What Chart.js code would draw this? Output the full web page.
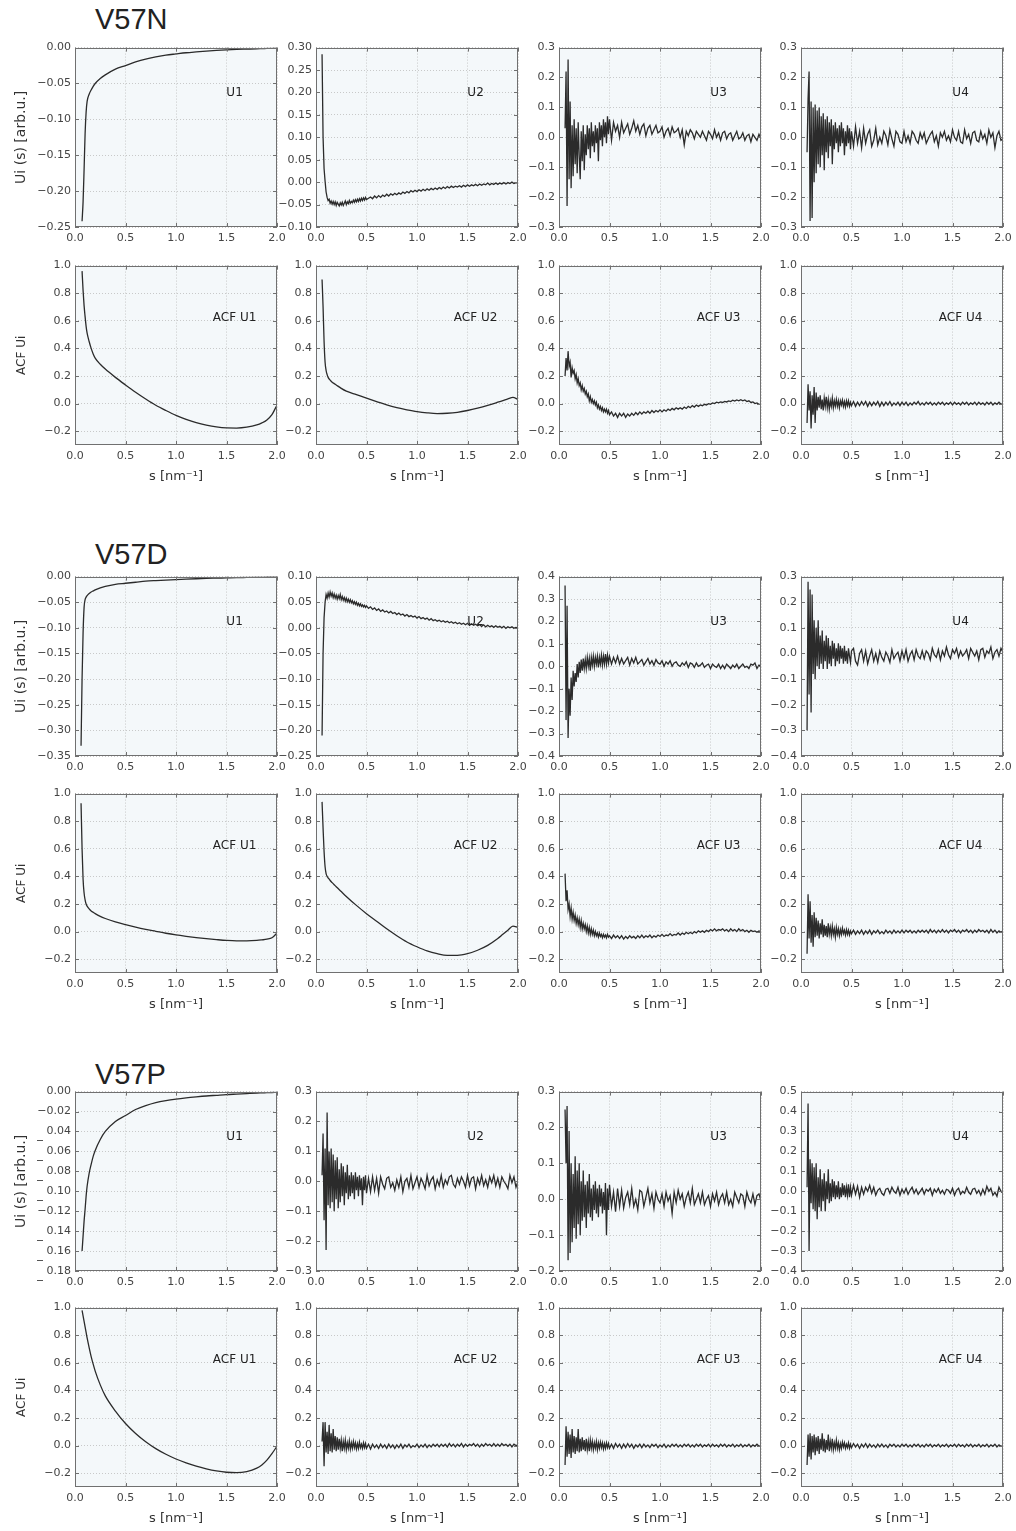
<!DOCTYPE html>
<html>
<head>
<meta charset="utf-8">
<script src="https://cdn.jsdelivr.net/npm/chart.js@4.4.0/dist/chart.umd.min.js"></script>
<style>
body{margin:0;background:#fff;width:1016px;height:1531px;position:relative;overflow:hidden;}
canvas{position:absolute;}
.grp{position:absolute;left:95px;font-family:"Liberation Sans",Arial,sans-serif;font-size:29px;line-height:29px;color:#222;}
</style>
</head>
<body>
<div class="grp" style="top:5px">V57N</div>
<div class="grp" style="top:540px">V57D</div>
<div class="grp" style="top:1060px">V57P</div>
<script>
// s grid for the smooth curves
const sSmooth = [0.06,0.07,0.08,0.09,0.10,0.11,0.12,0.14,0.16,0.18,0.20,0.25,0.30,
  0.40,0.50,0.60,0.70,0.80,0.90,1.00,1.10,1.20,1.30,1.40,1.50,1.60,1.70,1.80,1.85,1.90,1.95,2.00];

// s grid for the noisy curves
const sNoisy = [
  0.06,0.07,0.08,0.09,0.10,0.11,0.12,0.13,0.14,0.15,
  0.16,0.17,0.18,0.19,0.20,0.21,0.22,0.23,0.24,0.25,
  0.26,0.27,0.28,0.29,0.30,0.31,0.32,0.33,0.34,0.35,
  0.36,0.37,0.38,0.39,0.40,0.41,0.42,0.43,0.44,0.45,
  0.46,0.47,0.48,0.49,0.50,0.52,0.54,0.56,0.58,0.60,
  0.62,0.64,0.66,0.68,0.70,0.72,0.74,0.76,0.78,0.80,
  0.82,0.84,0.86,0.88,0.90,0.92,0.94,0.96,0.98,1.00,
  1.02,1.04,1.06,1.08,1.10,1.12,1.14,1.16,1.18,1.20,
  1.22,1.24,1.26,1.28,1.30,1.32,1.34,1.36,1.38,1.40,
  1.42,1.44,1.46,1.48,1.50,1.52,1.54,1.56,1.58,1.60,
  1.62,1.64,1.66,1.68,1.70,1.72,1.74,1.76,1.78,1.80,
  1.82,1.84,1.86,1.88,1.90,1.92,1.94,1.96,1.98,2.00];

// ---- V57N ----
const u1N = [null,-0.242,-0.215,-0.17,-0.12,-0.09,-0.075,-0.065,-0.059,-0.054,-0.050,-0.043,-0.038,
  -0.030,-0.025,-0.020,-0.016,-0.013,-0.0105,-0.0088,-0.0072,-0.006,-0.0049,-0.004,-0.0032,-0.0026,-0.0021,-0.0016,
  -0.0014,-0.0012,-0.001,-0.0008];
const u2N = [
  0.285,0.10,0.03,0.002,-0.022,-0.034,-0.041,-0.038,-0.047,-0.042,
  -0.049,-0.043,-0.050,-0.044,-0.052,-0.045,-0.049,-0.053,-0.046,-0.051,
  -0.045,-0.052,-0.047,-0.042,-0.050,-0.044,-0.048,-0.041,-0.047,-0.043,
  -0.046,-0.040,-0.045,-0.039,-0.044,-0.038,-0.043,-0.037,-0.042,-0.036,
  -0.041,-0.035,-0.040,-0.034,-0.039,-0.036,-0.033,-0.037,-0.031,-0.035,
  -0.030,-0.034,-0.029,-0.032,-0.027,-0.031,-0.026,-0.029,-0.025,-0.028,
  -0.024,-0.027,-0.022,-0.025,-0.021,-0.024,-0.019,-0.022,-0.018,-0.021,
  -0.017,-0.020,-0.016,-0.019,-0.015,-0.018,-0.014,-0.017,-0.013,-0.016,
  -0.012,-0.015,-0.011,-0.014,-0.010,-0.013,-0.009,-0.012,-0.009,-0.011,
  -0.008,-0.011,-0.007,-0.010,-0.006,-0.009,-0.006,-0.008,-0.005,-0.008,
  -0.004,-0.007,-0.004,-0.006,-0.002,-0.006,-0.003,-0.005,-0.002,-0.005,
  -0.002,-0.004,-0.001,-0.004,-0.001,-0.003,0.000,-0.003,-0.001,-0.002];
const u3N = [
  0.03,0.22,-0.23,0.26,-0.14,0.12,-0.17,0.04,-0.13,0.06,
  -0.09,0.03,-0.12,0.05,-0.06,-0.14,0.02,-0.08,0.04,-0.11,
  0.01,-0.06,0.04,-0.04,0.03,-0.07,0.05,-0.03,0.02,-0.05,
  0.04,-0.02,0.03,-0.08,0.05,-0.01,0.04,-0.03,0.06,0.00,
  0.05,-0.02,0.07,0.01,0.06,-0.01,0.05,0.02,0.04,0.00,
  0.05,0.015,0.03,0.045,0.01,0.03,0.055,0.02,0.04,0.01,
  0.035,0.045,0.005,0.03,0.04,0.01,0.025,0.04,0.015,0.02,
  0.035,0.0,0.02,0.03,0.005,0.035,0.015,0.02,0.03,0.0,
  0.025,-0.025,0.02,0.005,0.025,0.015,-0.005,0.02,0.01,0.0,
  0.02,0.005,-0.01,0.02,0.01,-0.005,0.025,0.0,0.015,-0.01,
  0.015,0.02,-0.005,0.01,0.015,-0.01,0.005,0.02,-0.005,0.0,
  0.015,-0.01,0.005,0.01,-0.015,0.01,0.0,-0.01,0.01,-0.005];
const u4N = [
  -0.05,0.13,0.22,-0.28,0.12,-0.27,0.10,-0.15,0.11,-0.12,
  0.09,-0.09,0.10,-0.10,0.07,-0.06,0.08,-0.11,0.06,-0.05,
  0.07,-0.07,0.05,-0.03,0.06,-0.09,0.04,-0.04,0.05,-0.02,
  0.03,-0.05,0.04,-0.03,0.05,-0.02,0.03,-0.06,0.02,-0.03,
  0.04,-0.02,0.03,-0.04,0.02,-0.03,0.035,-0.02,0.02,-0.035,
  0.03,-0.02,0.01,0.025,-0.03,-0.01,0.03,-0.025,0.0,-0.02,
  0.02,0.005,-0.025,0.025,-0.005,-0.03,0.02,0.01,-0.015,-0.02,
  0.02,-0.015,0.005,-0.02,0.02,0.01,-0.01,-0.02,0.015,-0.005,
  0.015,-0.02,-0.005,0.01,0.02,-0.015,0.005,-0.03,0.015,0.0,
  0.02,-0.01,0.005,-0.015,0.025,0.0,-0.01,0.02,-0.015,-0.02,
  0.025,-0.005,0.01,-0.02,0.015,0.02,-0.01,-0.015,0.02,-0.005,
  0.01,-0.02,0.025,0.0,0.015,-0.035,0.005,0.02,-0.01,-0.005];
const acf1N = [null,0.96,0.82,0.71,0.63,0.56,0.51,0.45,0.40,0.36,0.33,0.285,0.25,
  0.19,0.135,0.082,0.033,-0.012,-0.05,-0.085,-0.114,-0.138,-0.156,-0.169,-0.176,-0.177,-0.171,-0.155,
  -0.14,-0.118,-0.08,-0.01];
const acf2N = [0.90,0.70,0.45,0.30,0.24,0.21,0.19,0.17,0.155,0.145,0.135,0.11,0.09,
  0.065,0.04,0.015,-0.01,-0.03,-0.045,-0.058,-0.067,-0.072,-0.07,-0.063,-0.05,-0.033,-0.013,0.01,
  0.022,0.035,0.045,0.03];
const acf3N = [
  0.20,0.33,0.24,0.38,0.27,0.30,0.19,0.26,0.22,0.24,
  0.18,0.21,0.15,0.18,0.13,0.15,0.10,0.13,0.09,0.11,
  0.07,0.09,0.05,0.07,0.02,0.05,0.01,0.03,0.00,0.02,
  -0.01,0.01,-0.03,-0.01,-0.04,-0.02,-0.05,-0.03,-0.06,-0.04,
  -0.06,-0.04,-0.07,-0.05,-0.08,-0.06,-0.09,-0.07,-0.10,-0.07,
  -0.09,-0.07,-0.10,-0.075,-0.09,-0.07,-0.085,-0.065,-0.08,-0.06,
  -0.075,-0.06,-0.07,-0.055,-0.07,-0.05,-0.065,-0.05,-0.06,-0.045,
  -0.06,-0.045,-0.055,-0.04,-0.05,-0.035,-0.045,-0.03,-0.04,-0.03,
  -0.04,-0.025,-0.035,-0.02,-0.03,-0.015,-0.025,-0.01,-0.02,-0.01,
  -0.015,-0.005,-0.01,0.0,-0.005,0.005,0.0,0.01,0.005,0.012,
  0.008,0.016,0.012,0.02,0.015,0.025,0.018,0.026,0.02,0.028,
  0.02,0.026,0.015,0.02,0.008,0.012,0.0,0.005,-0.005,-0.005];
const acf4N = [
  -0.14,0.14,-0.05,0.09,-0.18,0.06,-0.08,0.12,-0.14,0.08,
  -0.05,0.05,-0.03,0.06,-0.04,0.03,-0.05,0.04,-0.02,0.05,
  -0.03,0.03,-0.04,0.02,-0.02,0.04,-0.03,0.02,-0.02,0.03,
  -0.02,0.02,-0.03,0.02,-0.01,0.025,-0.02,0.015,-0.025,0.02,
  -0.015,0.02,-0.02,0.01,-0.015,0.015,-0.02,0.01,-0.015,0.015,
  -0.01,0.015,-0.02,0.01,-0.015,0.01,-0.01,0.015,-0.02,0.01,
  -0.015,0.01,-0.01,0.015,-0.015,0.005,-0.01,0.01,-0.015,0.01,
  -0.01,0.01,-0.015,0.005,-0.01,0.01,-0.005,0.015,-0.01,0.005,
  -0.01,0.01,-0.005,0.01,-0.01,0.005,-0.01,0.01,-0.005,0.01,
  -0.01,0.005,-0.005,0.01,-0.01,0.01,-0.005,0.005,-0.01,0.01,
  -0.005,0.01,-0.01,0.005,-0.005,0.01,-0.01,0.01,-0.005,0.005,
  -0.01,0.01,-0.005,0.01,-0.01,0.005,-0.005,0.01,-0.005,0.0];

// ---- V57D ----
const u1D = [-0.33,-0.20,-0.11,-0.06,-0.045,-0.04,-0.037,-0.033,-0.030,-0.028,-0.026,-0.022,-0.019,
  -0.015,-0.013,-0.011,-0.009,-0.0078,-0.0068,-0.006,-0.005,-0.0042,-0.0035,-0.003,-0.0025,-0.002,-0.0016,-0.0012,
  -0.001,-0.0008,-0.0006,-0.0005];
const u2D = [
  -0.21,-0.05,0.02,0.05,0.065,0.058,0.068,0.060,0.070,0.062,
  0.068,0.059,0.066,0.058,0.064,0.056,0.063,0.057,0.065,0.055,
  0.061,0.054,0.059,0.052,0.058,0.051,0.056,0.050,0.055,0.049,
  0.053,0.047,0.051,0.046,0.050,0.044,0.048,0.043,0.047,0.042,
  0.045,0.041,0.044,0.040,0.043,0.038,0.041,0.036,0.039,0.034,
  0.037,0.032,0.035,0.031,0.033,0.029,0.032,0.028,0.030,0.026,
  0.029,0.025,0.027,0.023,0.026,0.022,0.024,0.021,0.023,0.019,
  0.022,0.018,0.020,0.017,0.019,0.015,0.018,0.014,0.016,0.013,
  0.015,0.012,0.014,0.011,0.013,0.010,0.012,0.009,0.011,0.008,
  0.010,0.007,0.009,0.006,0.009,0.005,0.008,0.005,0.007,0.004,
  0.006,0.003,0.006,0.002,0.005,0.002,0.004,0.001,0.004,0.001,
  0.003,0.000,0.003,-0.001,0.002,0.000,0.002,-0.001,0.001,0.000];
const u3D = [
  0.36,-0.24,0.27,-0.32,-0.10,-0.22,-0.05,-0.15,-0.02,-0.09,
  -0.03,-0.07,0.01,-0.05,0.02,-0.03,0.03,-0.02,0.035,-0.01,
  0.03,-0.01,0.04,0.0,0.035,-0.02,0.04,0.005,0.045,0.0,
  0.04,0.01,0.045,-0.005,0.04,0.01,0.05,0.005,0.045,0.01,
  0.055,0.01,0.05,0.015,0.045,0.01,0.04,0.015,0.045,0.01,
  0.035,0.01,0.025,0.04,0.005,0.035,0.015,0.04,0.01,0.02,
  0.03,0.005,0.02,0.035,0.01,0.025,0.005,0.03,0.015,0.01,
  0.025,0.0,0.02,0.01,0.025,0.0,0.015,0.02,0.005,0.0,
  0.015,0.005,0.02,-0.005,0.015,0.01,-0.005,0.015,0.0,0.005,
  0.015,-0.005,0.005,0.01,-0.01,0.01,0.0,-0.005,0.01,-0.01,
  0.005,-0.01,0.01,0.0,-0.01,0.005,-0.005,0.01,-0.01,0.0,
  0.01,-0.005,0.0,-0.01,0.01,0.005,0.015,-0.01,0.005,0.0];
const u4D = [
  -0.30,0.28,-0.16,0.25,-0.23,0.23,-0.08,0.13,-0.10,0.10,
  -0.05,0.13,-0.06,0.07,-0.04,0.09,-0.06,0.05,-0.03,0.07,
  -0.06,0.06,-0.04,0.03,-0.05,0.05,-0.02,0.04,-0.05,0.02,
  -0.03,0.04,-0.04,0.03,-0.02,0.02,-0.04,0.03,-0.03,0.01,
  -0.04,0.02,-0.01,-0.035,0.01,0.02,-0.03,-0.045,0.0,0.015,
  -0.03,0.01,-0.04,-0.01,0.015,-0.03,0.0,-0.035,0.01,-0.015,
  -0.03,0.005,-0.01,-0.035,0.015,-0.02,-0.005,0.005,-0.03,0.01,
  -0.02,0.015,-0.03,-0.005,0.01,-0.025,0.015,-0.01,-0.02,0.01,
  -0.02,0.01,0.0,-0.025,0.02,-0.005,-0.015,0.015,-0.025,0.01,
  -0.01,0.025,-0.005,-0.02,0.015,0.0,0.02,-0.015,0.01,-0.01,
  0.0,0.015,-0.02,0.02,0.005,-0.01,0.01,-0.025,0.015,0.02,
  -0.015,0.01,0.0,0.025,-0.02,0.005,0.015,-0.01,0.02,0.005];
const acf1D = [0.93,0.60,0.38,0.28,0.23,0.20,0.185,0.165,0.15,0.14,0.13,0.11,0.095,
  0.07,0.05,0.032,0.016,0.002,-0.012,-0.024,-0.034,-0.043,-0.051,-0.058,-0.064,-0.067,-0.067,-0.064,
  -0.06,-0.055,-0.045,-0.01];
const acf2D = [0.94,0.75,0.58,0.47,0.42,0.40,0.39,0.37,0.355,0.34,0.325,0.29,0.255,
  0.19,0.13,0.075,0.02,-0.03,-0.075,-0.11,-0.14,-0.16,-0.172,-0.172,-0.16,-0.135,-0.10,-0.05,
  -0.02,0.01,0.04,0.03];
const acf3D = [
  0.42,0.22,0.30,0.16,0.20,0.11,0.17,0.09,0.14,0.08,
  0.12,0.06,0.10,0.05,0.09,0.03,0.08,0.02,0.06,0.02,
  0.05,0.0,0.04,-0.01,0.03,-0.02,0.02,-0.02,0.01,-0.03,
  0.0,-0.03,-0.01,-0.04,-0.01,-0.035,-0.02,-0.045,-0.02,-0.04,
  -0.025,-0.045,-0.02,-0.04,-0.03,-0.05,-0.025,-0.045,-0.03,-0.05,
  -0.03,-0.055,-0.035,-0.05,-0.03,-0.045,-0.035,-0.05,-0.03,-0.045,
  -0.025,-0.045,-0.03,-0.04,-0.025,-0.045,-0.03,-0.04,-0.025,-0.035,
  -0.02,-0.035,-0.025,-0.03,-0.015,-0.03,-0.02,-0.025,-0.01,-0.025,
  -0.01,-0.02,-0.005,-0.015,-0.005,-0.015,0.0,-0.01,0.005,-0.005,
  0.005,-0.005,0.01,0.0,0.015,0.005,0.02,0.005,0.015,0.01,
  0.02,0.005,0.015,0.0,0.02,0.005,0.015,0.0,0.02,0.005,
  0.015,0.0,0.01,-0.005,0.01,0.0,0.005,-0.005,0.005,0.0];
const acf4D = [
  -0.16,0.27,-0.05,0.22,-0.08,0.12,-0.11,0.14,-0.04,0.10,
  -0.03,0.08,-0.05,0.06,-0.02,0.09,-0.04,0.05,-0.03,0.04,
  -0.04,0.06,-0.02,0.03,-0.03,0.04,-0.02,0.02,-0.04,0.03,
  -0.02,0.02,-0.03,0.015,-0.02,0.025,-0.015,0.01,-0.025,0.015,
  -0.02,0.01,-0.025,0.005,-0.015,0.01,-0.02,0.005,-0.015,0.01,
  -0.02,0.005,-0.015,0.01,-0.02,0.005,-0.01,0.01,-0.015,0.0,
  -0.015,0.01,-0.01,0.005,-0.015,0.01,-0.01,0.005,-0.01,0.01,
  -0.01,0.01,-0.005,0.01,-0.01,0.005,-0.01,0.01,-0.005,0.01,
  -0.005,0.01,-0.01,0.015,-0.005,0.01,-0.01,0.01,-0.005,0.015,
  -0.005,0.01,-0.01,0.01,0.0,0.015,-0.005,0.01,-0.01,0.01,
  0.0,0.015,-0.005,0.01,-0.01,0.01,-0.005,0.015,0.0,0.01,
  -0.005,0.01,-0.01,0.015,-0.005,0.01,-0.01,0.005,-0.005,0.005];

// ---- V57P ----
const u1P = [null,-0.16,-0.145,-0.13,-0.118,-0.105,-0.095,-0.082,-0.073,-0.065,-0.059,-0.048,-0.040,
  -0.030,-0.024,-0.018,-0.014,-0.011,-0.009,-0.0075,-0.0063,-0.0053,-0.0044,-0.0037,-0.003,-0.0025,-0.002,-0.0015,
  -0.0013,-0.0011,-0.0009,-0.0007];
const u2P = [
  0.02,0.16,-0.13,0.11,-0.23,0.23,-0.08,0.10,-0.09,0.11,
  -0.07,0.09,-0.10,0.07,-0.06,0.08,-0.09,0.04,-0.07,0.06,
  -0.05,0.05,-0.08,0.03,-0.04,0.055,-0.06,0.02,-0.05,0.03,
  -0.04,0.02,-0.06,0.03,-0.03,0.015,-0.05,0.02,-0.03,0.01,
  -0.08,0.015,-0.03,0.02,-0.04,0.01,-0.035,0.015,-0.03,0.01,
  -0.04,0.015,-0.01,-0.025,0.01,0.015,-0.02,-0.005,-0.03,0.005,
  -0.02,0.015,-0.035,0.0,0.01,-0.02,0.02,-0.025,-0.005,0.015,
  -0.02,0.01,-0.005,-0.025,0.02,-0.015,0.005,0.015,-0.025,0.005,
  -0.015,0.02,-0.02,0.005,-0.01,0.015,0.02,-0.01,-0.02,0.01,
  -0.01,0.015,0.0,-0.02,0.02,-0.015,0.01,0.015,-0.025,0.01,
  -0.01,0.02,-0.015,0.005,-0.02,0.015,-0.005,0.02,-0.015,0.01,
  -0.02,0.015,0.0,-0.01,-0.025,0.02,-0.005,0.015,-0.02,0.0];
const u3P = [
  0.25,0.10,0.26,-0.17,0.19,-0.15,0.10,-0.12,0.07,-0.08,
  0.12,-0.11,0.08,-0.07,0.10,-0.10,0.05,-0.06,0.08,-0.05,
  0.04,-0.08,0.05,-0.04,0.07,-0.05,0.03,-0.06,0.04,-0.03,
  0.05,-0.04,0.03,-0.05,0.04,-0.02,0.03,-0.04,0.02,-0.03,
  0.045,-0.1,0.03,-0.03,0.04,-0.02,0.02,-0.035,0.03,-0.02,
  0.025,-0.025,0.005,0.02,-0.015,0.03,-0.02,0.0,-0.03,0.025,
  0.02,-0.02,0.005,0.03,-0.01,0.015,-0.025,0.02,0.0,-0.01,
  0.015,-0.02,0.02,-0.005,0.01,-0.04,0.02,-0.01,0.025,0.0,
  0.015,-0.02,0.005,0.02,-0.01,0.03,-0.015,0.0,0.015,-0.01,
  0.02,-0.015,0.0,0.01,-0.02,0.015,-0.005,0.02,-0.015,0.005,
  0.015,-0.01,0.02,-0.015,0.0,-0.02,0.02,0.005,-0.01,0.015,
  0.01,-0.02,0.02,0.0,-0.01,0.015,-0.015,0.01,0.015,-0.005];
const u4P = [
  0.02,0.44,-0.30,0.16,-0.06,0.14,-0.09,0.12,-0.10,0.14,
  -0.14,0.07,-0.08,0.11,-0.10,0.06,-0.05,0.09,-0.10,0.05,
  -0.04,0.11,-0.06,0.04,-0.05,0.06,-0.03,0.05,-0.04,0.03,
  -0.03,0.05,-0.04,0.02,-0.03,0.04,-0.02,0.03,-0.03,0.02,
  -0.02,0.035,-0.03,0.02,-0.02,0.03,-0.015,0.025,-0.03,0.02,
  -0.015,0.02,0.0,0.03,-0.01,0.02,-0.02,0.005,0.015,-0.01,
  -0.02,0.01,0.015,-0.01,0.02,0.0,-0.01,0.02,-0.02,0.01,
  -0.01,0.015,-0.015,0.005,0.02,-0.01,0.01,-0.015,0.0,0.015,
  -0.015,0.01,0.0,0.015,-0.02,0.01,-0.005,0.015,-0.01,0.005,
  -0.015,0.01,0.005,-0.01,0.015,-0.02,0.005,0.015,-0.015,0.0,
  -0.01,0.02,-0.005,-0.015,0.01,0.015,-0.01,0.005,-0.02,0.01,
  -0.015,0.025,0.0,0.015,-0.02,-0.005,-0.025,0.02,0.0,-0.01];
const acf1P = [null,0.98,0.94,0.90,0.86,0.82,0.78,0.71,0.645,0.59,0.54,0.44,0.36,
  0.25,0.16,0.088,0.028,-0.022,-0.063,-0.097,-0.125,-0.149,-0.168,-0.183,-0.193,-0.196,-0.188,-0.163,
  -0.14,-0.105,-0.058,-0.005];
const acf2P = [
  0.03,0.17,-0.15,0.17,-0.05,0.10,-0.06,0.15,-0.04,0.09,
  -0.05,0.12,-0.03,0.07,-0.04,0.06,-0.03,0.05,-0.02,0.04,
  -0.04,0.03,-0.02,0.04,-0.03,0.02,-0.02,0.035,-0.025,0.02,
  -0.02,0.03,-0.015,0.02,-0.025,0.015,-0.02,0.025,-0.015,0.01,
  -0.02,0.02,-0.015,0.015,-0.02,0.01,-0.025,0.01,-0.015,0.005,
  -0.02,0.01,-0.015,0.005,-0.02,0.01,-0.015,0.005,-0.02,0.005,
  -0.015,0.01,-0.02,0.005,-0.01,0.01,-0.015,0.0,-0.01,0.01,
  -0.015,0.005,-0.01,0.01,-0.015,0.005,-0.01,0.01,-0.005,0.01,
  -0.01,0.01,-0.005,0.01,-0.01,0.015,-0.005,0.01,-0.01,0.01,
  -0.005,0.015,-0.01,0.01,-0.005,0.01,0.0,0.015,-0.005,0.01,
  -0.01,0.01,-0.005,0.015,0.0,0.01,-0.005,0.015,-0.005,0.01,
  -0.005,0.015,0.0,0.01,-0.005,0.01,-0.01,0.01,0.0,0.005];
const acf3P = [
  -0.14,0.14,-0.08,0.10,-0.06,0.08,-0.09,0.12,-0.05,0.07,
  -0.06,0.06,-0.04,0.12,-0.05,0.05,-0.04,0.06,-0.03,0.04,
  -0.04,0.05,-0.03,0.03,-0.04,0.04,-0.02,0.03,-0.03,0.02,
  -0.02,0.03,-0.03,0.02,-0.02,0.025,-0.015,0.02,-0.025,0.015,
  -0.02,0.02,-0.015,0.015,-0.02,0.01,-0.02,0.015,-0.01,0.01,
  -0.02,0.01,-0.015,0.015,-0.01,0.01,-0.02,0.005,-0.01,0.01,
  -0.015,0.01,-0.01,0.005,-0.015,0.01,-0.005,0.01,-0.015,0.005,
  -0.01,0.01,-0.015,0.005,-0.01,0.01,-0.005,0.01,-0.01,0.005,
  -0.01,0.01,-0.005,0.01,-0.01,0.005,-0.01,0.01,-0.005,0.01,
  -0.01,0.005,-0.005,0.01,-0.01,0.01,-0.005,0.005,-0.01,0.01,
  -0.005,0.01,-0.01,0.005,-0.005,0.01,-0.01,0.005,-0.005,0.01,
  -0.01,0.005,-0.005,0.01,-0.01,0.005,-0.005,0.01,-0.005,0.0];
const acf4P = [
  -0.14,0.08,-0.08,0.09,-0.10,0.07,-0.05,0.08,-0.07,0.06,
  -0.04,0.07,-0.06,0.05,-0.03,0.09,-0.04,0.05,-0.05,0.04,
  -0.03,0.08,-0.04,0.03,-0.02,0.05,-0.03,0.02,-0.02,0.04,
  -0.02,0.02,-0.03,0.015,-0.02,0.025,-0.01,0.02,-0.02,0.01,
  -0.015,0.02,-0.02,0.01,-0.015,0.015,-0.01,0.01,-0.02,0.01,
  -0.01,0.015,-0.015,0.01,-0.01,0.005,-0.015,0.01,-0.01,0.01,
  -0.01,0.005,-0.015,0.01,-0.005,0.01,-0.01,0.005,-0.01,0.01,
  -0.005,0.01,-0.01,0.005,-0.01,0.01,-0.005,0.01,-0.01,0.005,
  -0.01,0.01,-0.005,0.01,-0.01,0.005,-0.005,0.01,-0.01,0.005,
  -0.005,0.01,-0.01,0.005,-0.005,0.01,-0.01,0.01,-0.005,0.005,
  -0.01,0.01,-0.005,0.01,-0.01,0.005,-0.005,0.01,-0.01,0.005,
  -0.005,0.01,-0.01,0.005,-0.005,0.01,-0.01,0.005,-0.005,0.0];

// tick values
const xTicks = [0, 0.5, 1.0, 1.5, 2.0];
const ticksACF = [-0.2, 0, 0.2, 0.4, 0.6, 0.8, 1.0];
const ticksU1N = [-0.25, -0.2, -0.15, -0.1, -0.05, 0];
const ticksU2N = [-0.1, -0.05, 0, 0.05, 0.1, 0.15, 0.2, 0.25, 0.3];
const ticksU3N = [-0.3, -0.2, -0.1, 0, 0.1, 0.2, 0.3];
const ticksU1D = [-0.35, -0.3, -0.25, -0.2, -0.15, -0.1, -0.05, 0];
const ticksU2D = [-0.25, -0.2, -0.15, -0.1, -0.05, 0, 0.05, 0.1];
const ticksU3D = [-0.4, -0.3, -0.2, -0.1, 0, 0.1, 0.2, 0.3, 0.4];
const ticksU4D = [-0.4, -0.3, -0.2, -0.1, 0, 0.1, 0.2, 0.3];
const ticksU1P = [-0.18, -0.16, -0.14, -0.12, -0.1, -0.08, -0.06, -0.04, -0.02, 0];
const ticksU3P = [-0.2, -0.1, 0, 0.1, 0.2, 0.3];
const ticksU4P = [-0.4, -0.3, -0.2, -0.1, 0, 0.1, 0.2, 0.3, 0.4, 0.5];
// V57P U1 labels printed with the minus sign split off
const splitMinusP = [-0.04, -0.06, -0.08, -0.1, -0.14, -0.16, -0.18];

// layout
const colLeft = [75, 316, 559, 801];
const rowTop = [[47, 265], [576, 793], [1091, 1307]];
const plotW = 202, plotH = 180;
const fontTick = "'DejaVu Sans', sans-serif";

const panels = [
  {g:0,r:0,c:0,x:sSmooth,y:u1N,min:-0.25,max:0,ticks:ticksU1N,dec:2,label:"U1",smooth:true},
  {g:0,r:0,c:1,x:sNoisy,y:u2N,min:-0.1,max:0.3,ticks:ticksU2N,dec:2,label:"U2"},
  {g:0,r:0,c:2,x:sNoisy,y:u3N,min:-0.3,max:0.3,ticks:ticksU3N,dec:1,label:"U3"},
  {g:0,r:0,c:3,x:sNoisy,y:u4N,min:-0.3,max:0.3,ticks:ticksU3N,dec:1,label:"U4"},
  {g:0,r:1,c:0,x:sSmooth,y:acf1N,min:-0.3,max:1,ticks:ticksACF,dec:1,label:"ACF U1",smooth:true},
  {g:0,r:1,c:1,x:sSmooth,y:acf2N,min:-0.3,max:1,ticks:ticksACF,dec:1,label:"ACF U2",smooth:true},
  {g:0,r:1,c:2,x:sNoisy,y:acf3N,min:-0.3,max:1,ticks:ticksACF,dec:1,label:"ACF U3"},
  {g:0,r:1,c:3,x:sNoisy,y:acf4N,min:-0.3,max:1,ticks:ticksACF,dec:1,label:"ACF U4"},

  {g:1,r:0,c:0,x:sSmooth,y:u1D,min:-0.35,max:0,ticks:ticksU1D,dec:2,label:"U1",smooth:true},
  {g:1,r:0,c:1,x:sNoisy,y:u2D,min:-0.25,max:0.1,ticks:ticksU2D,dec:2,label:"U2"},
  {g:1,r:0,c:2,x:sNoisy,y:u3D,min:-0.4,max:0.4,ticks:ticksU3D,dec:1,label:"U3"},
  {g:1,r:0,c:3,x:sNoisy,y:u4D,min:-0.4,max:0.3,ticks:ticksU4D,dec:1,label:"U4"},
  {g:1,r:1,c:0,x:sSmooth,y:acf1D,min:-0.3,max:1,ticks:ticksACF,dec:1,label:"ACF U1",smooth:true},
  {g:1,r:1,c:1,x:sSmooth,y:acf2D,min:-0.3,max:1,ticks:ticksACF,dec:1,label:"ACF U2",smooth:true},
  {g:1,r:1,c:2,x:sNoisy,y:acf3D,min:-0.3,max:1,ticks:ticksACF,dec:1,label:"ACF U3"},
  {g:1,r:1,c:3,x:sNoisy,y:acf4D,min:-0.3,max:1,ticks:ticksACF,dec:1,label:"ACF U4"},

  {g:2,r:0,c:0,x:sSmooth,y:u1P,min:-0.18,max:0,ticks:ticksU1P,dec:2,label:"U1",smooth:true,split:true},
  {g:2,r:0,c:1,x:sNoisy,y:u2P,min:-0.3,max:0.3,ticks:ticksU3N,dec:1,label:"U2"},
  {g:2,r:0,c:2,x:sNoisy,y:u3P,min:-0.2,max:0.3,ticks:ticksU3P,dec:1,label:"U3"},
  {g:2,r:0,c:3,x:sNoisy,y:u4P,min:-0.4,max:0.5,ticks:ticksU4P,dec:1,label:"U4"},
  {g:2,r:1,c:0,x:sSmooth,y:acf1P,min:-0.3,max:1,ticks:ticksACF,dec:1,label:"ACF U1",smooth:true},
  {g:2,r:1,c:1,x:sNoisy,y:acf2P,min:-0.3,max:1,ticks:ticksACF,dec:1,label:"ACF U2"},
  {g:2,r:1,c:2,x:sNoisy,y:acf3P,min:-0.3,max:1,ticks:ticksACF,dec:1,label:"ACF U3"},
  {g:2,r:1,c:3,x:sNoisy,y:acf4P,min:-0.3,max:1,ticks:ticksACF,dec:1,label:"ACF U4"}
];

// light background, frame, inward ticks and the in-plot label
const framePlugin = {
  id: "frame",
  beforeDraw(chart) {
    const {ctx, chartArea: a} = chart;
    ctx.save();
    ctx.fillStyle = "#f4f8fa";
    ctx.fillRect(a.left, a.top, a.width, a.height);
    ctx.restore();
  },
  afterDraw(chart, args, opts) {
    const {ctx, chartArea: a, scales} = chart;
    ctx.save();
    ctx.strokeStyle = "#707070";
    ctx.lineWidth = 1;
    ctx.strokeRect(Math.round(a.left) + 0.5, Math.round(a.top) + 0.5, Math.round(a.width) - 1, Math.round(a.height) - 1);
    ctx.beginPath();
    scales.x.ticks.forEach(t => {
      const px = Math.round(scales.x.getPixelForValue(t.value)) + 0.5;
      ctx.moveTo(px, a.bottom); ctx.lineTo(px, a.bottom - 4);
      ctx.moveTo(px, a.top); ctx.lineTo(px, a.top + 4);
    });
    scales.y.ticks.forEach(t => {
      const py = Math.round(scales.y.getPixelForValue(t.value)) + 0.5;
      ctx.moveTo(a.left, py); ctx.lineTo(a.left + 4, py);
      ctx.moveTo(a.right, py); ctx.lineTo(a.right - 4, py);
    });
    ctx.stroke();

    ctx.fillStyle = "#222";
    ctx.font = "12px 'DejaVu Sans', sans-serif";
    ctx.textAlign = "center";
    ctx.textBaseline = "middle";
    ctx.fillText(opts.label, a.left + a.width * 0.79, a.top + a.height * opts.ly);

    if (opts.split) {
      ctx.fillStyle = "#555";
      splitMinusP.forEach(v => {
        const py = scales.y.getPixelForValue(v);
        ctx.fillRect(a.left - 38, Math.round(py) + 9, 6, 1);
      });
    }
    ctx.restore();
  }
};

function fmt(v, dec, split) {
  if (split && splitMinusP.some(m => Math.abs(m - v) < 1e-9)) return Math.abs(v).toFixed(dec);
  if (Math.abs(v) < 1e-9) return (0).toFixed(dec);
  return (v < 0 ? "\u2212" : "") + Math.abs(v).toFixed(dec);
}

panels.forEach(p => {
  const padT = 10, padR = 14;
  const padL = p.c === 0 ? 75 : 44;
  const padB = p.r === 1 ? 45 : 22;
  const left = colLeft[p.c] - padL;
  const top = rowTop[p.g][p.r] - padT;
  const cv = document.createElement("canvas");
  cv.width = padL + plotW + padR;
  cv.height = padT + plotH + padB;
  cv.style.left = left + "px";
  cv.style.top = top + "px";
  document.body.appendChild(cv);

  const yTitle = p.r === 0 ? "Ui (s) [arb.u.]" : "ACF Ui";
  const yTitleSize = p.r === 0 ? 14 : 12;

  new Chart(cv.getContext("2d"), {
    type: "line",
    data: {
      datasets: [{
        data: p.x.map((s, i) => ({x: s, y: p.y[i]})),
        borderColor: "#2b2b2b",
        borderWidth: 1.3,
        pointRadius: 0,
        tension: 0,
        cubicInterpolationMode: p.smooth ? "monotone" : "default",
        spanGaps: false
      }]
    },
    options: {
      responsive: false,
      animation: false,
      devicePixelRatio: 1,
      events: [],
      layout: {padding: {top: padT, right: padR, left: 0, bottom: 0}},
      plugins: {
        legend: {display: false},
        tooltip: {enabled: false},
        frame: {label: p.label, ly: p.r === 0 ? 0.25 : 0.29, split: !!p.split}
      },
      scales: {
        x: {
          type: "linear",
          min: 0,
          max: 2,
          afterBuildTicks: s => { s.ticks = xTicks.map(v => ({value: v})); },
          afterFit: s => { s.height = padB; },
          ticks: {
            color: "#444",
            font: {family: fontTick, size: 11},
            padding: 5,
            maxRotation: 0,
            autoSkip: false,
            callback: v => v.toFixed(1)
          },
          grid: {color: "#bdbdbd", lineWidth: 0.8, drawTicks: false},
          border: {display: false, dash: [1, 2]},
          title: {
            display: p.r === 1,
            text: "s [nm\u207B\u00B9]",
            color: "#333",
            font: {family: fontTick, size: 13},
            padding: {top: 0, bottom: 6}
          }
        },
        y: {
          min: p.min,
          max: p.max,
          afterBuildTicks: s => { s.ticks = p.ticks.map(v => ({value: v})); },
          afterFit: s => { s.width = padL; },
          ticks: {
            color: "#444",
            font: {family: fontTick, size: 11},
            padding: 4,
            autoSkip: false,
            callback: v => fmt(v, p.dec, p.split)
          },
          grid: {color: "#bdbdbd", lineWidth: 0.8, drawTicks: false},
          border: {display: false, dash: [1, 2]},
          title: {
            display: p.c === 0,
            text: yTitle,
            color: "#333",
            font: {family: fontTick, size: yTitleSize},
            padding: {top: p.r === 0 ? 13 : 15, bottom: 0}
          }
        }
      }
    },
    plugins: [framePlugin]
  });
});
</script>
</body>
</html>
